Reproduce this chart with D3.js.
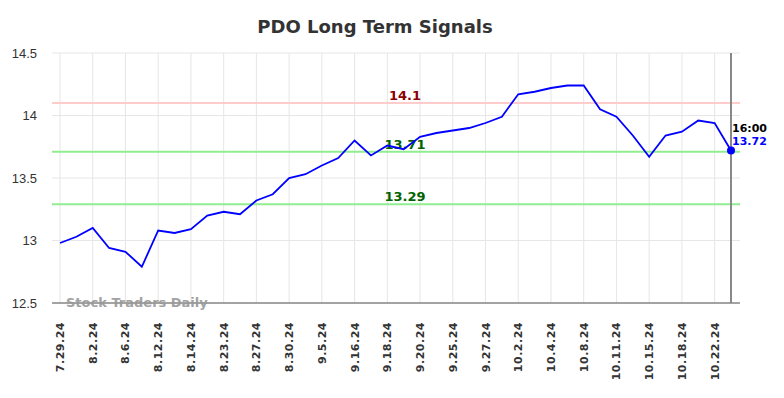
<!DOCTYPE html>
<html><head><meta charset="utf-8">
<script src="https://cdn.jsdelivr.net/npm/d3@7"></script>
<style>body{margin:0;background:#fff;font-family:"DejaVu Sans",sans-serif;}</style>
</head><body><svg id="c" width="784" height="398"></svg>
<script>
const dates = ["7.29.24","7.31.24","8.2.24","8.5.24","8.6.24","8.9.24","8.12.24","8.13.24","8.14.24","8.22.24","8.23.24","8.26.24","8.27.24","8.29.24","8.30.24","9.4.24","9.5.24","9.13.24","9.16.24","9.17.24","9.18.24","9.19.24","9.20.24","9.24.24","9.25.24","9.26.24","9.27.24","10.1.24","10.2.24","10.3.24","10.4.24","10.7.24","10.8.24","10.10.24","10.11.24","10.14.24","10.15.24","10.17.24","10.18.24","10.21.24","10.22.24","10.24.24"];
const values = [12.98,13.03,13.10,12.94,12.91,12.79,13.08,13.06,13.09,13.20,13.23,13.21,13.32,13.37,13.50,13.53,13.60,13.66,13.80,13.68,13.76,13.73,13.83,13.86,13.88,13.90,13.94,13.99,14.17,14.19,14.22,14.24,14.24,14.05,13.99,13.84,13.67,13.84,13.87,13.96,13.94,13.72];
const yTicks = [12.5,13,13.5,14,14.5];
const levels = [14.1,13.71,13.29];
const levelLabels = ["14.1","13.71","13.29"];
const lastTime = "16:00";
const lastLabel = "13.72";

const svg = d3.select("#c");
const x = d3.scaleLinear().domain([0, values.length-1]).range([60, 731]);
const y = d3.scaleLinear().domain([12.5,14.5]).range([303,53]);
const L = 52, R = 740;

svg.append("text").attr("x",375).attr("y",33).attr("text-anchor","middle")
  .attr("font-size",18).attr("font-weight","bold").attr("fill","#333").text("PDO Long Term Signals");

// grid
const labelIdx = dates.map((d,i)=>i).filter(i=>i%2===0);
svg.append("g").selectAll("line").data(labelIdx).join("line")
  .attr("x1",d=>x(d)).attr("x2",d=>x(d)).attr("y1",53).attr("y2",303)
  .attr("stroke","#e6e6e6").attr("stroke-width",1);
svg.append("g").selectAll("line").data(yTicks).join("line")
  .attr("x1",L).attr("x2",R).attr("y1",d=>y(d)).attr("y2",d=>y(d))
  .attr("stroke","#e6e6e6").attr("stroke-width",1);

// y labels
svg.append("g").selectAll("text").data(yTicks).join("text")
  .attr("x",37).attr("y",d=>y(d)+4.5).attr("text-anchor","end")
  .attr("font-size",13).attr("fill","#333").attr("font-family","Liberation Sans, Arial, sans-serif")
  .text(d=>d);

// x labels
svg.append("g").selectAll("text").data(labelIdx).join("text")
  .attr("transform",d=>`translate(${x(d)+4},322) rotate(-90)`)
  .attr("text-anchor","end").attr("font-size",11).attr("font-weight","bold").attr("fill","#333")
  .attr("letter-spacing","0.5")
  .text(d=>dates[d]);

// level lines
const lcol = ["#ffcccc","#90ee90","#90ee90"];
const tcol = ["#8b0000","#006400","#006400"];
svg.append("g").selectAll("line").data(levels).join("line")
  .attr("x1",L).attr("x2",R).attr("y1",d=>y(d)).attr("y2",d=>y(d))
  .attr("stroke",(d,i)=>lcol[i]).attr("stroke-width",2);
svg.append("g").selectAll("text").data(levels).join("text")
  .attr("x",405).attr("y",d=>y(d)-3).attr("text-anchor","middle")
  .attr("font-size",13).attr("font-weight","bold").attr("fill",(d,i)=>tcol[i])
  .text((d,i)=>levelLabels[i]);

// axis line
svg.append("line").attr("x1",L).attr("x2",R).attr("y1",303).attr("y2",303).attr("stroke","#555").attr("stroke-width",1.2);

// watermark
svg.append("text").attr("x",66).attr("y",307).attr("font-size",13).attr("font-weight","bold")
  .attr("fill","#999").attr("opacity",0.9).text("Stock Traders Daily");

// end vertical line
const li = values.length-1;
svg.append("line").attr("x1",x(li)).attr("x2",x(li)).attr("y1",53).attr("y2",303)
  .attr("stroke","#888").attr("stroke-width",2);

// series
svg.append("path").datum(values)
  .attr("d",d3.line().x((d,i)=>x(i)).y(d=>y(d)))
  .attr("fill","none").attr("stroke","#0000ff").attr("stroke-width",1.8);
svg.append("circle").attr("cx",x(li)).attr("cy",y(values[li])).attr("r",4).attr("fill","#0000ff");

svg.append("text").attr("x",x(li)+1).attr("y",132).attr("font-size",11).attr("font-weight","bold").attr("fill","#000").text(lastTime);
svg.append("text").attr("x",x(li)+1).attr("y",145).attr("font-size",11).attr("font-weight","bold").attr("fill","#0000ff").text(lastLabel);
</script></body></html>
